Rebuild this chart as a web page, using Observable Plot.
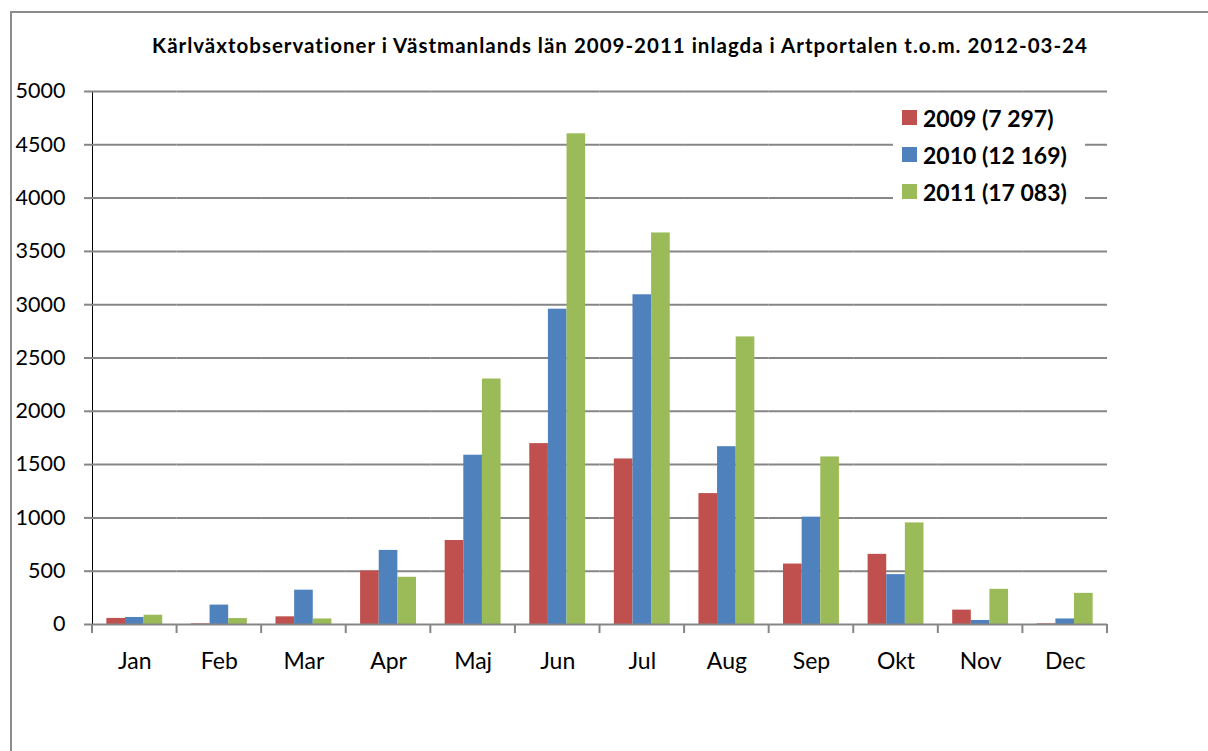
<!DOCTYPE html>
<html>
<head>
<meta charset="utf-8">
<script src="https://cdn.jsdelivr.net/npm/d3@7"></script>
<script src="https://cdn.jsdelivr.net/npm/@observablehq/plot@0.6"></script>
<style>
  html, body { margin: 0; padding: 0; background: #fff; }
  #wrap { position: relative; width: 1208px; height: 751px; overflow: hidden; font-family: Lato, "Open Sans", sans-serif; }
  #frame { position: absolute; left: 10px; top: 11px; width: 1210px; height: 760px; border: 2px solid #8c8c8c; box-sizing: border-box; }
  #title { position: absolute; left: 16px; width: 1208px; top: 33px; text-align: center; font-weight: bold; font-size: 20.5px; letter-spacing: 1px; color: #000; white-space: nowrap; }
  #legend { position: absolute; left: 893px; top: 97px; width: 183px; background: #fff; padding: 2px 0 4px 9px; }
  .item { display: flex; align-items: center; height: 37px; font-weight: bold; font-size: 23px; color: #000; }
  .sw { width: 15px; height: 15px; margin-right: 6px; }
  #chart { position: absolute; left: 0; top: 0; }
  #chart svg [aria-label^="y-axis"] path, #chart svg [aria-label^="y-axis"] line { stroke: #868686; stroke-width: 2px; }
  #chart svg [aria-label^="fx-axis"] text { font-size: 23px; }
</style>
</head>
<body>
<div id="wrap">
  <div id="frame"></div>
  <div id="chart"></div>
  <div id="title">Kärlväxtobservationer i Västmanlands län 2009-2011 inlagda i Artportalen t.o.m. 2012-03-24</div>
  <div id="legend"></div>
</div>
<script>
const months = ["Jan", "Feb", "Mar", "Apr", "Maj", "Jun", "Jul", "Aug", "Sep", "Okt", "Nov", "Dec"];
const years = ["2009", "2010", "2011"];
const seriesLabels = ["2009 (7 297)", "2010 (12 169)", "2011 (17 083)"];
const colors = ["#C0504D", "#4F81BD", "#9BBB59"];
const v2009 = [57, 6, 72, 502, 788, 1697, 1553, 1228, 567, 658, 135, 6];
const v2010 = [66, 182, 322, 695, 1588, 2958, 3093, 1668, 1007, 468, 38, 52];
const v2011 = [87, 56, 52, 443, 2303, 4603, 3673, 2698, 1572, 953, 330, 292];
const yTicks = [0, 500, 1000, 1500, 2000, 2500, 3000, 3500, 4000, 4500, 5000];

const seriesValues = [v2009, v2010, v2011];
const data = months.flatMap((m, i) => years.map((yr, k) => ({month: m, year: yr, value: seriesValues[k][i]})));

const chart = Plot.plot({
  width: 1208,
  height: 751,
  marginLeft: 92,
  marginRight: 101,
  marginTop: 91,
  marginBottom: 127,
  style: {fontFamily: "Lato, 'Open Sans', sans-serif", fontSize: "21.5px", color: "#000", background: "transparent"},
  facet: {data, x: "month"},
  fx: {domain: months, padding: 0, round: false, label: null, axis: "bottom", tickSize: 0, tickPadding: 28},
  x: {domain: years, axis: null, paddingInner: 0, paddingOuter: 0.77, round: false},
  y: {domain: [0, 5000], ticks: yTicks, tickFormat: d => String(d), label: null, tickSize: 8, tickPadding: 19, line: true},
  color: {domain: years, range: colors},
  marks: [
    Plot.ruleY(yTicks.filter(d => d > 0), {stroke: "#868686", strokeWidth: 2}),
    Plot.barY(data, {x: "year", y: "value", fill: "year"}),
    Plot.ruleY([0], {stroke: "#868686", strokeWidth: 2})
  ]
});
document.getElementById("chart").appendChild(chart);

// category boundary tick marks below the x axis, placed via the library's fx and y scales
const fx = chart.scale("fx");
const ys = chart.scale("y");
const y0 = ys.apply(0);
const bounds = months.map(m => fx.apply(m)).concat([fx.apply(months[months.length - 1]) + fx.bandwidth]);
d3.select(chart).append("g")
  .selectAll("line").data(bounds).join("line")
  .attr("x1", d => d).attr("x2", d => d)
  .attr("y1", y0).attr("y2", y0 + 9)
  .attr("stroke", "#868686").attr("stroke-width", 2);

const legend = d3.select("#legend");
seriesLabels.forEach((lab, k) => {
  const it = legend.append("div").attr("class", "item");
  it.append("div").attr("class", "sw").style("background", colors[k]);
  it.append("span").text(lab);
});
</script>
</body>
</html>
